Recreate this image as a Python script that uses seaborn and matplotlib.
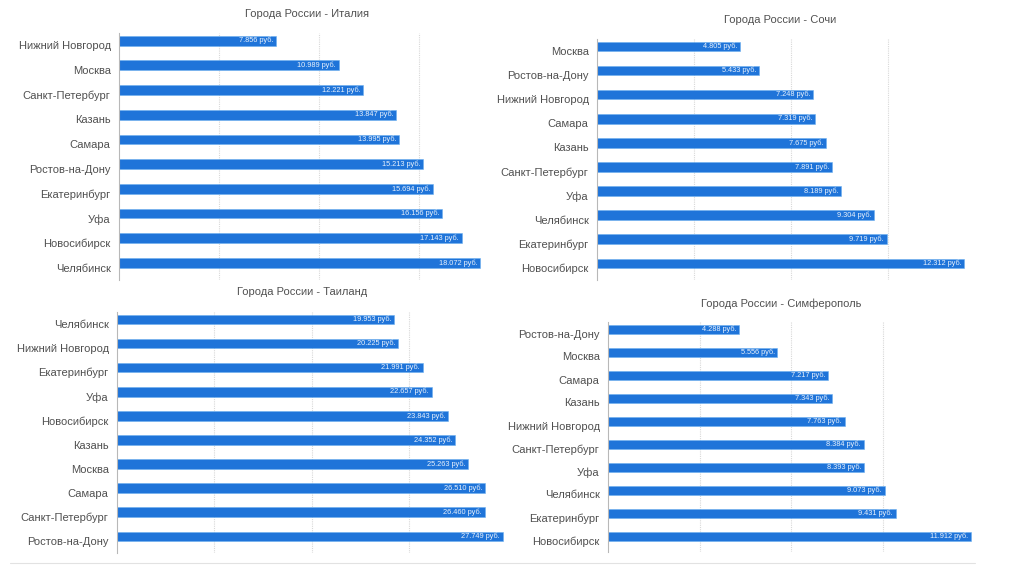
import matplotlib
matplotlib.use("Agg")
import matplotlib.pyplot as plt
import seaborn as sns
import pandas as pd
import numpy as np
from matplotlib.lines import Line2D

# ── data (top to bottom, as in the reference) ─────────────────────────────────
italy_cities = ["Нижний Новгород", "Москва", "Санкт-Петербург", "Казань", "Самара",
                "Ростов-на-Дону", "Екатеринбург", "Уфа", "Новосибирск", "Челябинск"]
italy_prices = [7856, 10989, 12221, 13847, 13995, 15213, 15694, 16156, 17143, 18072]

sochi_cities = ["Москва", "Ростов-на-Дону", "Нижний Новгород", "Самара", "Казань",
                "Санкт-Петербург", "Уфа", "Челябинск", "Екатеринбург", "Новосибирск"]
sochi_prices = [4805, 5433, 7248, 7319, 7675, 7891, 8189, 9304, 9719, 12312]

thai_cities = ["Челябинск", "Нижний Новгород", "Екатеринбург", "Уфа", "Новосибирск",
               "Казань", "Москва", "Самара", "Санкт-Петербург", "Ростов-на-Дону"]
thai_prices = [19953, 20225, 21991, 22657, 23843, 24352, 25263, 26510, 26460, 27749]

simf_cities = ["Ростов-на-Дону", "Москва", "Самара", "Казань", "Нижний Новгород",
               "Санкт-Петербург", "Уфа", "Челябинск", "Екатеринбург", "Новосибирск"]
simf_prices = [4288, 5556, 7217, 7343, 7763, 8384, 8393, 9073, 9431, 11912]

titles = ["Города России - Италия", "Города России - Сочи",
          "Города России - Таиланд", "Города России - Симферополь"]

sns.set_theme(style="white")
plt.rcParams["font.family"] = ["Liberation Sans", "DejaVu Sans"]

W, H = 1024, 568
fig = plt.figure(figsize=(W / 100, H / 100), dpi=100)

# panel layout in pixels: left, right, top, bottom, xmax, step, title x, title y
panels = [
    (italy_cities, italy_prices, 119, 519, 33, 280, 20000, 5000, 307, 14),
    (sochi_cities, sochi_prices, 597, 984.5, 39, 280, 13000, 3250, 780, 20),
    (thai_cities, thai_prices, 117, 506, 312, 553, 28000, 7000, 302, 292),
    (simf_cities, simf_prices, 608, 974, 322, 552, 12000, 3000, 781, 304),
]

BAR = "#1f74d9"
SHIFT = 0.19  # bars sit in the upper part of each row slot

for (cities, prices, l, r, t, b, xmax, step, tx, ty), title in zip(panels, titles):
    ax = fig.add_axes([l / W, 1 - b / H, (r - l) / W, (b - t) / H])
    ax.patch.set_alpha(0)
    df = pd.DataFrame({"city": cities, "price": prices})
    sns.barplot(data=df, y="city", x="price", orient="h", color=BAR,
                width=0.4, saturation=1, edgecolor="#6cb0f0", linewidth=0.4, ax=ax)

    for i, v in enumerate(prices):
        lab = f"{v:,}".replace(",", ".") + " руб."
        ax.annotate(lab, (v, i), xytext=(-2, 0), textcoords="offset points",
                    ha="right", va="center", fontsize=5.3, color="#e8f1fc")

    ax.set_xlim(0, xmax)
    ax.set_ylim(len(cities) - 0.5 + SHIFT, -0.5 + SHIFT)
    ax.set_xticks(np.arange(step, xmax, step))
    ax.set_xticklabels([])
    ax.set_yticks(np.arange(len(cities)) + SHIFT)
    ax.set_yticklabels(cities, fontsize=8, color="#505050")
    ax.tick_params(axis="both", length=0)
    ax.tick_params(axis="y", pad=6)
    ax.set_xlabel("")
    ax.set_ylabel("")
    ax.grid(axis="x", linestyle=(0, (1, 1)), color="#d8d8d8", linewidth=0.8)
    ax.set_axisbelow(True)
    for s in ["top", "right", "bottom"]:
        ax.spines[s].set_visible(False)
    ax.spines["left"].set_color("#b8b8b8")
    ax.spines["left"].set_linewidth(0.8)

    fig.text(tx / W, 1 - ty / H, title, ha="center", va="center",
             fontsize=8, color="#505050")

# faint separator line along the bottom
fig.add_artist(Line2D([10 / W, 975 / W], [1 - 563 / H, 1 - 563 / H],
                      color="#e2e2e2", linewidth=0.8))

plt.savefig("out.png", dpi=100)
plt.close()
